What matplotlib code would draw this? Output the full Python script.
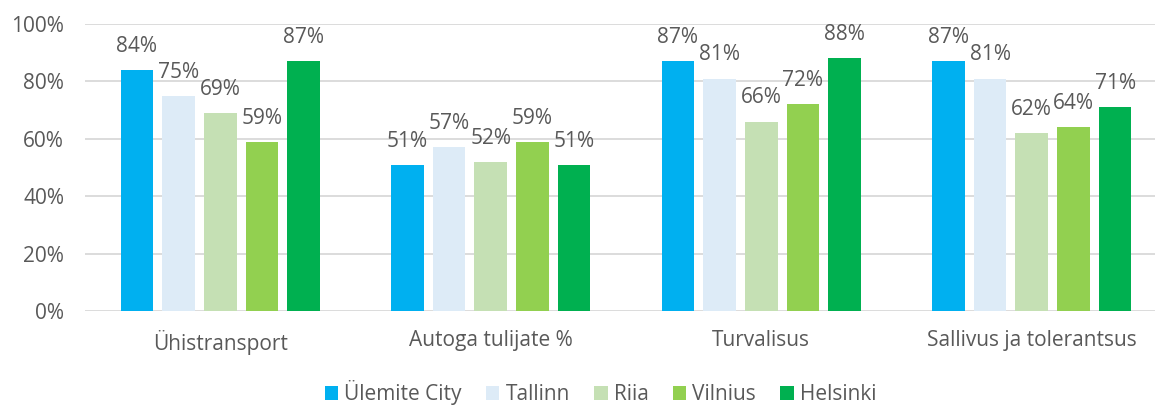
import matplotlib
matplotlib.use("Agg")
import matplotlib.pyplot as plt
import numpy as np
from matplotlib.ticker import PercentFormatter

categories = ["Ühistransport", "Autoga tulijate %", "Turvalisus", "Sallivus ja tolerantsus"]
series_names = ["Ülemite City", "Tallinn", "Riia", "Vilnius", "Helsinki"]
ulemite = [84, 51, 87, 87]
tallinn = [75, 57, 81, 81]
riia = [69, 52, 66, 62]
vilnius = [59, 59, 72, 64]
helsinki = [87, 51, 88, 71]
colors = ["#00B0F0", "#DDEBF7", "#C5E0B4", "#92D050", "#00B050"]

plt.rcParams['font.family'] = ['Open Sans', 'DejaVu Sans']
txt = "#595959"
fs = 15

fig = plt.figure(figsize=(11.55, 4.05), dpi=100)
ax = fig.add_axes([0.0736, 0.232, 0.9368, 0.7087])

x = np.arange(len(categories))
step = 0.154
width = 0.121
all_series = [ulemite, tallinn, riia, vilnius, helsinki]
for i, (vals, name, c) in enumerate(zip(all_series, series_names, colors)):
    pos = x + (i - 2) * step
    ax.bar(pos, vals, width, color=c, label=name, zorder=3)
    for xp, v in zip(pos, vals):
        ax.annotate(f"{v}%", (xp, v), xytext=(0, 17), textcoords="offset points",
                    ha="center", va="center", fontsize=fs, color=txt)

ax.set_xlim(-0.5, len(categories) - 0.5)
ax.set_ylim(0, 100)
ax.set_yticks(range(0, 101, 20))
ax.yaxis.set_major_formatter(PercentFormatter(decimals=0))
ax.set_xticks(x)
ax.set_xticklabels(categories)
ax.grid(axis="y", color="#D9D9D9", linewidth=1.3, zorder=0)
ax.set_axisbelow(True)
for s in ax.spines.values():
    s.set_visible(False)
ax.tick_params(axis="both", length=0, colors=txt, labelsize=fs)
ax.tick_params(axis="x", pad=14)
ax.tick_params(axis="y", pad=15)

handles, labels = ax.get_legend_handles_labels()
leg = fig.legend(handles, labels, loc="center", bbox_to_anchor=(0.52, 0.03), ncol=5, frameon=False,
                 fontsize=fs, handlelength=0.65, handleheight=0.65, handletextpad=0.3,
                 columnspacing=1.15)
for t in leg.get_texts():
    t.set_color(txt)

fig.savefig("out.png", dpi=100)
